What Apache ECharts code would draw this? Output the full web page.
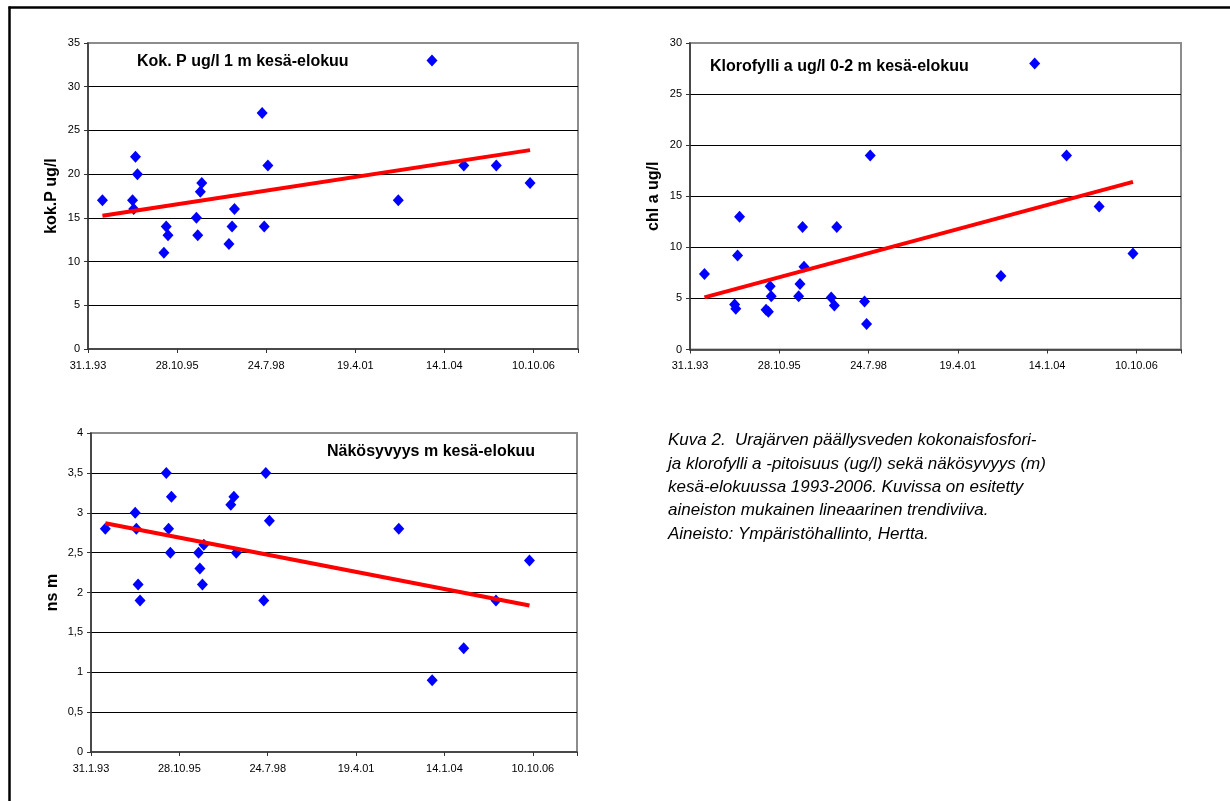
<!DOCTYPE html>
<html>
<head>
<meta charset="utf-8">
<title>Urajärvi</title>
<script src="https://cdn.jsdelivr.net/npm/echarts@6/dist/echarts.min.js"></script>
<style>
  html, body { margin: 0; padding: 0; background: #fff; }
  #main { width: 1230px; height: 801px; }
</style>
</head>
<body>
<div id="main"></div>
<script>
// näytteenottopäivät (kesä-elokuu)
const sampleDates = [
  "1993-07-12", "1994-06-15", "1994-06-28", "1994-07-18", "1994-08-09",
  "1995-06-02", "1995-06-28", "1995-07-18", "1995-07-30",
  "1996-06-01", "1996-06-16", "1996-07-15", "1996-07-31",
  "1997-06-01", "1997-07-06", "1997-08-02",
  "1998-06-09", "1998-07-02", "1998-08-12",
  "2002-08-15", "2003-08-28", "2004-08-19", "2005-08-19", "2006-09-02"
];
// kok.P ug/l 1 m (null = ei näytettä)
const kokP = [17, 17, 16, 22, 20, 11, 14, 13, null, 15, 13, 18, 19, 12, 14, 16, 27, 14, 21, 17, 33, 21, 21, 19];
// klorofylli a ug/l 0-2 m
const chlA = [7.4, 4.4, 4.0, 9.2, 13, 3.9, 3.7, 6.2, 5.2, 5.2, 6.4, 12, 8.1, 5.1, 4.3, 12, 4.7, 2.5, 19, 7.2, 28, 19, 14, 9.4];
// näkösyvyys m
const nakosyvyys = [2.8, 3.0, 2.8, 2.1, 1.9, 3.5, 2.8, 2.5, 3.2, 2.5, 2.3, 2.1, 2.6, 3.1, 3.2, 2.5, 1.9, 3.5, 2.9, 2.8, 0.9, 1.3, 1.9, 2.4];

const titles = ["Kok. P ug/l 1 m kesä-elokuu", "Klorofylli a ug/l 0-2 m kesä-elokuu", "Näkösyvyys m kesä-elokuu"];
const yNames = ["kok.P ug/l", "chl a ug/l", "ns m"];
const yMax = [35, 30, 4];
const yStep = [5, 5, 0.5];
const xMaxDays = 5500;   // akseli 31.1.93 + 5500 pv
const xStepDays = 1000;

const caption = "Kuva 2.  Urajärven päällysveden kokonaisfosfori-\n" +
  "ja klorofylli a -pitoisuus (ug/l) sekä näkösyvyys (m)\n" +
  "kesä-elokuussa 1993-2006. Kuvissa on esitetty\n" +
  "aineiston mukainen lineaarinen trendiviiva.\n" +
  "Aineisto: Ympäristöhallinto, Hertta.";

const FONT = "'Liberation Sans', Arial, sans-serif";
const DAY = 86400000;
const BASE = Date.UTC(1993, 0, 31);

function toDays(s) {
  const p = s.split("-");
  return (Date.UTC(+p[0], +p[1] - 1, +p[2]) - BASE) / DAY;
}

function dayLabel(v) {
  if (v % xStepDays !== 0) return "";
  const d = new Date(BASE + v * DAY);
  return d.getUTCDate() + "." + (d.getUTCMonth() + 1) + "." + String(d.getUTCFullYear()).slice(2);
}

function pairs(values) {
  let out = [];
  for (let i = 0; i < sampleDates.length; i++) {
    if (values[i] !== null) out.push([toDays(sampleDates[i]), values[i]]);
  }
  return out;
}

// lineaarinen trendi (pienimmän neliösumman suora)
function trend(pts) {
  let n = pts.length, sx = 0, sy = 0, sxx = 0, sxy = 0;
  pts.forEach(p => { sx += p[0]; sy += p[1]; sxx += p[0] * p[0]; sxy += p[0] * p[1]; });
  let b = (n * sxy - sx * sy) / (n * sxx - sx * sx);
  let a = (sy - b * sx) / n;
  let xs = pts.map(p => p[0]);
  let x0 = Math.min.apply(null, xs), x1 = Math.max.apply(null, xs);
  return [[x0, a + b * x0], [x1, a + b * x1]];
}

const seriesValues = [kokP, chlA, nakosyvyys];

const grids = [
  { left: 88, top: 43, width: 490, height: 306 },
  { left: 690, top: 43, width: 491, height: 306.5 },
  { left: 91, top: 433, width: 486, height: 319 }
];
const titlePos = [
  { left: 137, top: 54 },
  { left: 710, top: 59 },
  { left: 327, top: 444 }
];
const nameGaps = [28, 28, 30];

let chart = echarts.init(document.getElementById("main"));

let option = {
  animation: false,
  backgroundColor: "#fff",
  title: titles.map((t, i) => ({
    text: t,
    left: titlePos[i].left,
    top: titlePos[i].top,
    padding: 0,
    textStyle: { fontFamily: FONT, fontSize: 16, fontWeight: "bold", color: "#000" }
  })),
  grid: grids.map(g => Object.assign({
    show: true,
    borderColor: "#8c8c8c",
    borderWidth: 2,
    backgroundColor: "transparent"
  }, g)),
  xAxis: grids.map((g, i) => ({
    type: "value",
    gridIndex: i,
    min: 0,
    max: xMaxDays,
    interval: xStepDays,
    axisLine: { show: true, lineStyle: { color: "#333", width: 1.5 } },
    axisTick: { show: true, inside: false, length: 4, lineStyle: { color: "#333", width: 1 } },
    axisLabel: { formatter: dayLabel, fontFamily: FONT, fontSize: 11, color: "#000", margin: 11 },
    splitLine: { show: false }
  })),
  yAxis: grids.map((g, i) => ({
    type: "value",
    gridIndex: i,
    min: 0,
    max: yMax[i],
    interval: yStep[i],
    name: yNames[i],
    nameLocation: "middle",
    nameGap: nameGaps[i],
    nameTextStyle: { fontFamily: FONT, fontSize: 16, fontWeight: "bold", color: "#000" },
    axisLine: { show: true, lineStyle: { color: "#333", width: 1.5 } },
    axisTick: { show: true, inside: false, length: 4, lineStyle: { color: "#333", width: 1 } },
    axisLabel: {
      fontFamily: FONT, fontSize: 11, color: "#000", margin: 8,
      formatter: v => String(v).replace(".", ",")
    },
    splitLine: { show: true, showMinLine: false, showMaxLine: false, lineStyle: { color: "#000", width: 1 } }
  })),
  series: [],
  graphic: [
    { type: "line", shape: { x1: 8.5, y1: 7.5, x2: 1230, y2: 7.5 }, style: { stroke: "#000", lineWidth: 2.5 } },
    { type: "line", shape: { x1: 9.5, y1: 6.5, x2: 9.5, y2: 801 }, style: { stroke: "#000", lineWidth: 2.5 } },
    {
      type: "text", left: 668, top: 429,
      style: { text: caption, font: "italic 17px " + FONT, lineHeight: 23.3, fill: "#000" }
    }
  ]
};

seriesValues.forEach((vals, i) => {
  let pts = pairs(vals);
  option.series.push({
    type: "scatter",
    xAxisIndex: i,
    yAxisIndex: i,
    symbol: "diamond",
    symbolSize: [11, 12],
    itemStyle: { color: "#0000ff", opacity: 1 },
    data: pts
  });
  option.series.push({
    type: "line",
    xAxisIndex: i,
    yAxisIndex: i,
    showSymbol: false,
    symbol: "none",
    lineStyle: { color: "#ff0000", width: 4 },
    data: trend(pts)
  });
});

chart.setOption(option);
window.addEventListener("resize", function () {
  chart.resize();
});
</script>
</body>
</html>
